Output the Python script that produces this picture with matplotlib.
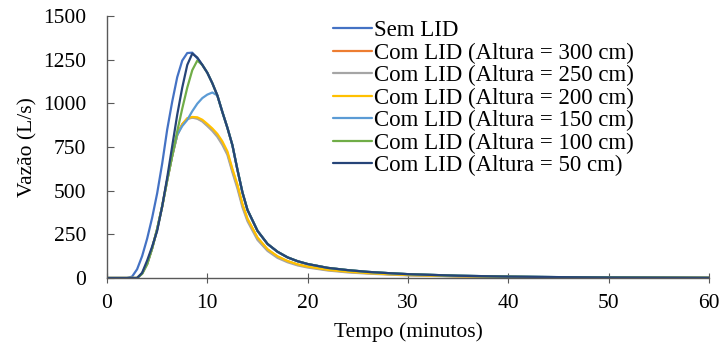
import matplotlib
matplotlib.use("Agg")
import matplotlib.pyplot as plt

plt.rcParams['font.family'] = ['Liberation Serif', 'DejaVu Serif']

# time grid (minutes)
tempo = [0, 2, 2.5, 3, 3.5, 4, 4.5, 5, 5.5, 6, 6.5, 7, 7.5, 8, 8.5, 9, 9.5, 10,
         10.5, 11, 11.5, 12, 12.5, 13, 13.5, 14, 15, 16, 17, 18, 19, 20, 22, 24,
         26, 28, 30, 35, 40, 45, 50, 55, 60]

sem_lid = [0, 0, 8, 50, 125, 225, 345, 485, 655, 850, 1010, 1150, 1245, 1288, 1290,
           1258, 1220, 1175, 1115, 1045, 950, 860, 760, 620, 490, 390, 270, 195,
           150, 118, 96, 80, 58, 45, 35, 28, 22, 13, 8, 5, 3, 2, 1]
alt_300 = [0, 0, 0, 0, 25, 80, 170, 280, 410, 560, 700, 820, 880, 912, 920, 915, 900,
           875, 848, 815, 770, 715, 615, 525, 415, 335, 228, 162, 122, 96, 77, 64,
           46, 35, 28, 22, 17, 10, 6, 4, 3, 2, 1]
alt_250 = [0, 0, 0, 0, 25, 80, 170, 280, 410, 560, 700, 820, 880, 910, 918, 912, 896,
           870, 842, 808, 762, 705, 605, 512, 405, 325, 218, 155, 115, 90, 72, 60,
           43, 32, 25, 20, 15, 9, 5, 3, 2, 1, 1]
alt_200 = [0, 0, 0, 0, 25, 80, 170, 280, 410, 560, 700, 820, 880, 915, 922, 920, 906,
           882, 856, 825, 782, 725, 625, 535, 425, 340, 232, 165, 124, 97, 78, 65,
           47, 36, 28, 22, 17, 10, 6, 4, 3, 2, 1]
alt_150 = [0, 0, 0, 0, 25, 80, 170, 280, 410, 560, 700, 820, 870, 905, 955, 998, 1030,
           1050, 1062, 1045, 950, 860, 760, 620, 490, 390, 270, 195, 150, 118, 96,
           80, 58, 45, 35, 28, 22, 13, 8, 5, 3, 2, 1]
alt_100 = [0, 0, 0, 0, 25, 80, 170, 280, 410, 560, 700, 840, 970, 1090, 1190, 1245,
           1220, 1175, 1115, 1045, 950, 860, 760, 620, 490, 390, 270, 195, 150, 118,
           96, 80, 58, 45, 35, 28, 22, 13, 8, 5, 3, 2, 1]
alt_50 = [0, 0, 0, 0, 30, 100, 180, 270, 410, 575, 755, 935, 1090, 1220, 1285, 1262,
          1220, 1175, 1115, 1045, 950, 860, 760, 620, 490, 390, 270, 195, 150, 118,
          96, 80, 58, 45, 35, 28, 22, 13, 8, 5, 3, 2, 1]

series = [
    ("Sem LID", sem_lid, "#4472C4"),
    ("Com LID (Altura = 300 cm)", alt_300, "#ED7D31"),
    ("Com LID (Altura = 250 cm)", alt_250, "#A5A5A5"),
    ("Com LID (Altura = 200 cm)", alt_200, "#FFC000"),
    ("Com LID (Altura = 150 cm)", alt_150, "#5B9BD5"),
    ("Com LID (Altura = 100 cm)", alt_100, "#70AD47"),
    ("Com LID (Altura = 50 cm)", alt_50, "#264478"),
]

xticks = [0, 10, 20, 30, 40, 50, 60]
yticks = [0, 250, 500, 750, 1000, 1250, 1500]

fig = plt.figure(figsize=(7.26, 3.56), dpi=100)
ax = fig.add_axes([107/726, 1 - 278/356, (709-107)/726, (278-16)/356])

for label, vals, color in series:
    ax.plot(tempo, vals, color=color, lw=1.6, label=label,
            solid_capstyle='round', solid_joinstyle='round')

ax.set_xlim(0, 60)
ax.set_ylim(0, 1500)
ax.set_xticks(xticks)
ax.set_yticks(yticks)
ax.set_yticklabels([str(v) for v in yticks])
for s in ['top', 'right']:
    ax.spines[s].set_visible(False)
for s in ['left', 'bottom']:
    ax.spines[s].set_color('#595959')
    ax.spines[s].set_linewidth(1.0)
ax.tick_params(axis='y', direction='in', length=5, color='#595959', labelsize=15.5, pad=15)
ax.tick_params(axis='x', direction='inout', length=7, color='#595959', labelsize=15.5, pad=8)
ax.set_xlabel("Tempo (minutos)", fontsize=15.5, labelpad=7)
ax.set_ylabel("Vazão (L/s)", fontsize=15.5, labelpad=4)

leg = ax.legend(loc='upper left', bbox_to_anchor=(333/726, 1 - 20/356),
                bbox_transform=fig.transFigure, frameon=False, fontsize=16.5,
                handlelength=1.7, handletextpad=0.08, labelspacing=0.06,
                borderpad=0, borderaxespad=0)

fig.savefig("out.png", dpi=100)
